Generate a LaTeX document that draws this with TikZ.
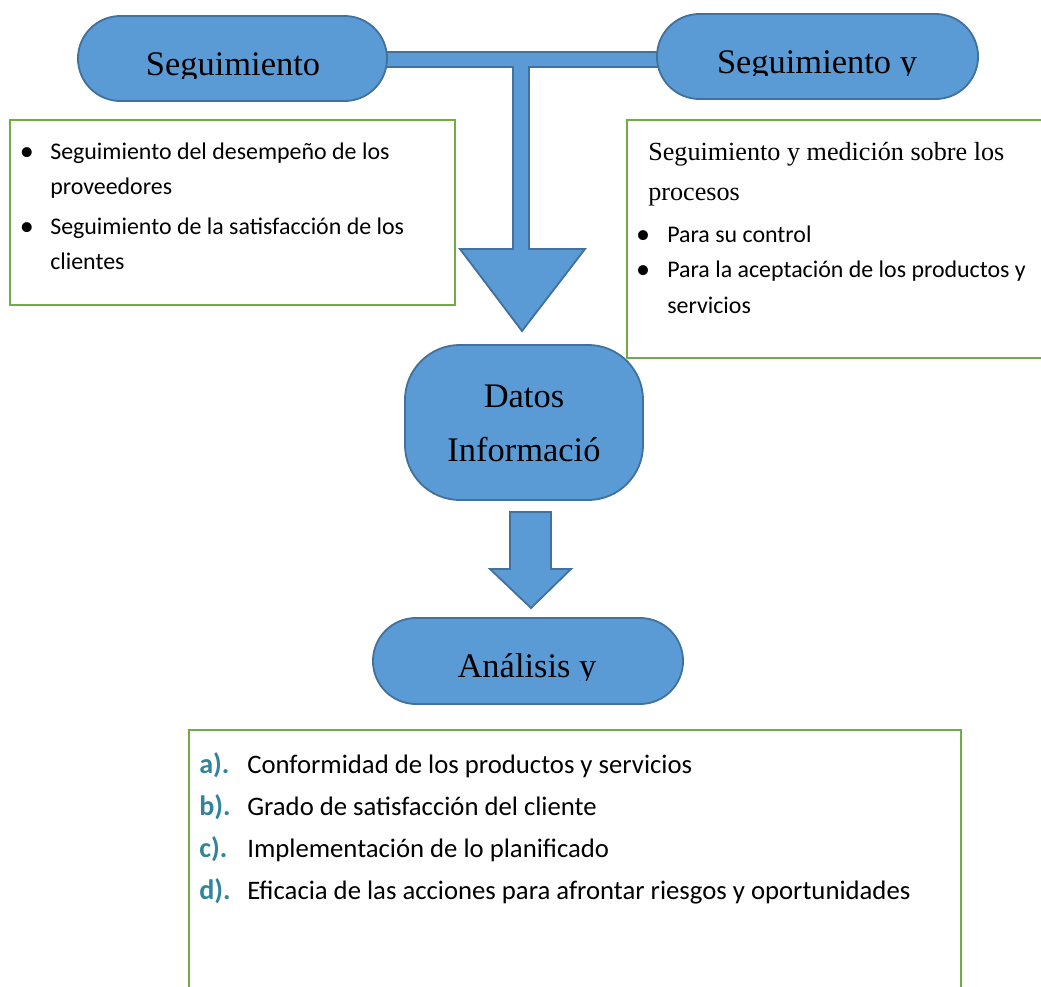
\documentclass[tikz,border=0pt]{standalone}
\usepackage{fontspec}
\setmainfont{Carlito}
\newfontfamily\pillfont{Liberation Serif}
\usetikzlibrary{shapes.misc}
\definecolor{pillfill}{RGB}{91,155,213}
\definecolor{pillline}{RGB}{65,113,156}
\definecolor{boxgreen}{RGB}{112,173,71}
\definecolor{labteal}{RGB}{49,132,155}
\begin{document}
\begin{tikzpicture}[x=0.025cm,y=-0.025cm,
  pill/.style={rounded rectangle, draw=pillline, fill=pillfill, line width=1.3pt, inner sep=0pt},
  roundbox/.style={rectangle, rounded corners=1.375cm, draw=pillline, fill=pillfill, line width=1.3pt, inner sep=0pt},
  greenbox/.style={draw=boxgreen, line width=2pt},
  blockarrow/.style={draw=pillline, fill=pillfill, line width=1.3pt, line join=miter},
  pilltext/.style={font=\pillfont\fontsize{24.5}{29}\selectfont, inner sep=0pt, anchor=base},
  serifline/.style={font=\pillfont\fontsize{18.6}{22}\selectfont, inner sep=0pt, anchor=base west},
  bodytext/.style={font=\fontsize{17}{20}\selectfont, inner sep=0pt, anchor=base west},
  bul/.style={font=\fontsize{20}{22}\selectfont, inner sep=0pt, anchor=base},
  listtext/.style={font=\fontsize{19}{22}\selectfont, inner sep=0pt, anchor=base west},
  listlab/.style={font=\bfseries\fontsize{20}{22}\selectfont, text=labteal, inner sep=0pt, anchor=base west}]
\useasboundingbox (0,0) rectangle (1041,987);

% green text boxes
\draw[greenbox] (10,120) rectangle (455,305);
\draw[greenbox] (627,120) rectangle (1060,358);
\draw[greenbox] (189,730) rectangle (961,1000);

% T-shaped block arrow
\draw[blockarrow] (370,52) -- (675,52) -- (675,67) -- (529,67) -- (529,249) -- (585,249)
  -- (522,331) -- (460,249) -- (513,249) -- (513,67) -- (370,67) -- cycle;
% second block arrow
\draw[blockarrow] (510,512) -- (551,512) -- (551,569) -- (571,569) -- (531,608)
  -- (490,569) -- (510,569) -- cycle;

% pills
\node[pill, minimum width=7.725cm, minimum height=2.125cm] (segA) at (232.5,58.5) {};
\node[pill, minimum width=8.025cm, minimum height=2.125cm] (segB) at (817.5,56.5) {};
\node[roundbox, minimum width=5.95cm, minimum height=3.875cm] (datos) at (524,422.5) {};
\node[pill, minimum width=7.75cm, minimum height=2.15cm] (anal) at (528,661) {};

% pill texts (clipped as in the original)
\begin{scope}
  \clip (80,20) rectangle (385,78);
  \node[pilltext] (tSegA) at (233,75) {Seguimiento};
\end{scope}
\begin{scope}
  \clip (660,18) rectangle (975,75.5);
  \node[pilltext] (tSegB) at (817,73) {Seguimiento y};
\end{scope}
\node[pilltext] (tDatos) at (524,407) {Datos};
\node[pilltext] (tInfo) at (524,461) {Informació};
\begin{scope}
  \clip (380,622) rectangle (680,680);
  \node[pilltext] (tAnal) at (527,677) {Análisis y};
\end{scope}

% left box text
\node[bul] (lb1) at (27,160) {\textbullet};
\node[bodytext] (l1) at (50,159) {Seguimiento del desempeño de los};
\node[bodytext] (l2) at (50,194) {proveedores};
\node[bul] (lb2) at (27,235) {\textbullet};
\node[bodytext] (l3) at (50,234) {Seguimiento de la satisfacción de los};
\node[bodytext] (l4) at (50,269) {clientes};

% right box text
\node[serifline] (r1) at (648,160) {Seguimiento y medición sobre los};
\node[serifline] (r2) at (648,200) {procesos};
\node[bul] (rb1) at (643,243) {\textbullet};
\node[bodytext] (r3) at (667,242) {Para su control};
\node[bul] (rb2) at (643,278) {\textbullet};
\node[bodytext] (r4) at (667,277) {Para la aceptación de los productos y};
\node[bodytext] (r5) at (667,313) {servicios};

% bottom box list
\node[listlab] (la) at (199,773) {a).};
\node[listtext] (ta) at (247,773) {Conformidad de los productos y servicios};
\node[listlab] (lb) at (199,815) {b).};
\node[listtext] (tb) at (247,815) {Grado de satisfacción del cliente};
\node[listlab] (lc) at (199,857) {c).};
\node[listtext] (tc) at (247,857) {Implementación de lo planificado};
\node[listlab] (ld) at (199,899) {d).};
\node[listtext] (td) at (247,899) {Eficacia de las acciones para afrontar riesgos y oportunidades};
\end{tikzpicture}
\end{document}
